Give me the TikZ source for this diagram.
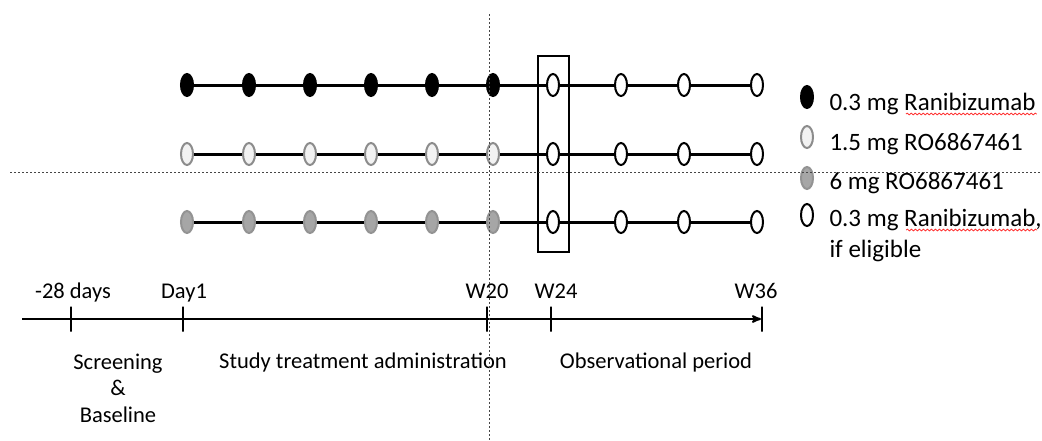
\documentclass[tikz,border=0pt]{standalone}
\usepackage{fontspec}
\setmainfont{Carlito}
\usetikzlibrary{arrows,calc,shapes.geometric,decorations.pathmorphing}

\begin{document}
\begin{tikzpicture}[x=1pt,y=-1pt,line width=3pt,>=stealth',
  dose node/.style={ellipse,inner sep=0pt,minimum width=12pt,minimum height=22pt,line width=2pt},
  black node/.style={dose node,draw=black,fill=black},
  light node/.style={dose node,draw=gray!90,fill=gray!10},
  grey node/.style={dose node,draw=gray!85,fill=gray!70},
  open node/.style={dose node,draw=black,fill=white},
  tick node/.style={draw,inner sep=0pt,minimum width=0pt,minimum height=25pt,line width=2pt},
  label node/.style={font=\fontsize{22.5}{26}\selectfont,inner sep=0pt,anchor=base},
  legend node/.style={font=\fontsize{25}{31}\selectfont,inner sep=0pt,anchor=base west},
  spell mark/.style={red!80,line width=0.8pt,decorate,decoration={snake,amplitude=0.9pt,segment length=4pt}},
  guide line/.style={line width=1pt,gray!55!black,dash pattern=on 2pt off 2pt}]

\useasboundingbox (0,0) rectangle (1042,440);

% Ranibizumab arm
\node[black node](A1) at (187,85) {};
\node[black node](A2) at (249,85) {};
\node[black node](A3) at (310,85) {};
\node[black node](A4) at (371,85) {};
\node[black node](A5) at (432,85) {};
\node[black node](A6) at (493,85) {};
\node[open node](A7) at (553,85) {};
\node[open node](A8) at (621,85) {};
\node[open node](A9) at (684,85) {};
\node[open node](A10) at (757,85) {};

% 1.5 mg arm
\node[light node](B1) at (187,154) {};
\node[light node](B2) at (249,154) {};
\node[light node](B3) at (310,154) {};
\node[light node](B4) at (371,154) {};
\node[light node](B5) at (432,154) {};
\node[light node](B6) at (493,154) {};
\node[open node](B7) at (553,154) {};
\node[open node](B8) at (621,154) {};
\node[open node](B9) at (684,154) {};
\node[open node](B10) at (757,154) {};

% 6 mg arm
\node[grey node](C1) at (187,222) {};
\node[grey node](C2) at (249,222) {};
\node[grey node](C3) at (310,222) {};
\node[grey node](C4) at (371,222) {};
\node[grey node](C5) at (432,222) {};
\node[grey node](C6) at (493,222) {};
\node[open node](C7) at (553,222) {};
\node[open node](C8) at (621,222) {};
\node[open node](C9) at (684,222) {};
\node[open node](C10) at (757,222) {};

\node[draw,line width=2pt,inner sep=0pt,minimum width=31pt,minimum height=196pt](W24box) at (553,154) {};

\path
(A1) edge (A2) (A2) edge (A3) (A3) edge (A4) (A4) edge (A5) (A5) edge (A6)
(A6) edge (A7) (A7) edge (A8) (A8) edge (A9) (A9) edge (A10)
(B1) edge (B2) (B2) edge (B3) (B3) edge (B4) (B4) edge (B5) (B5) edge (B6)
(B6) edge (B7) (B7) edge (B8) (B8) edge (B9) (B9) edge (B10)
(C1) edge (C2) (C2) edge (C3) (C3) edge (C4) (C4) edge (C5) (C5) edge (C6)
(C6) edge (C7) (C7) edge (C8) (C8) edge (C9) (C9) edge (C10);

% legend
\node[black node](L1) at (807,97) {};
\node[light node](L2) at (807,137) {};
\node[grey node](L3) at (807,178) {};
\node[open node](L4) at (807,215) {};
\node[legend node](T1) at (828,110) {0.3 mg Ranibizumab};
\node[legend node](T2) at (828,150) {1.5 mg RO6867461};
\node[legend node](T3) at (828,189) {6 mg RO6867461};
\node[legend node](T4) at (828,226) {0.3 mg Ranibizumab,};
\node[legend node](T5) at (828,257) {if eligible};
\draw[spell mark] ($(T1.base east)+(-131,4)$) -- ($(T1.base east)+(0,4)$);
\draw[spell mark] ($(T4.base east)+(-137,4)$) -- ($(T4.base east)+(-6,4)$);

% timeline
\coordinate (start) at (22,319);
\node[tick node](T0) at (71,319) {};
\node[tick node](TD1) at (183,319) {};
\node[tick node](TW20) at (487,319) {};
\node[tick node](TW24) at (551,319) {};
\node[tick node](TW36) at (762,319) {};
\draw[->,line width=2pt] (start) -- (TW36);

\node[label node](N0) at (73,298) {-28 days};
\node[label node](ND1) at (184,298) {Day1};
\node[label node](NW20) at (487,298) {W20};
\node[label node](NW24) at (556,298) {W24};
\node[label node](NW36) at (756,298) {W36};

\node[label node](screen) at (118,369) {Screening};
\node[label node](amp) at (118,395) {\&};
\node[label node](base) at (118,422) {Baseline};
\node[label node](study) at (363,368) {Study treatment administration};
\node[label node](obs) at (656,368) {Observational period};

% dotted guides
\draw[guide line] (489,14) -- (489,440);
\draw[guide line] (10,172) -- (1042,172);

\end{tikzpicture}
\end{document}
